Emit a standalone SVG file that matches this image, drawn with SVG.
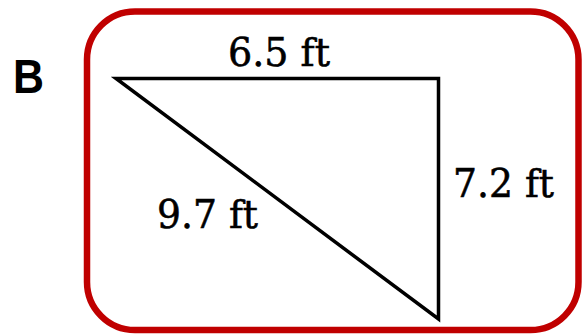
<svg xmlns="http://www.w3.org/2000/svg" width="582" height="334" viewBox="0 0 582 334">
<style>
.frame{fill:none;stroke:#C00000;stroke-width:6.5}
.edge{fill:none;stroke:#000;stroke-width:3.5;stroke-linejoin:miter;stroke-miterlimit:20}
.lbl{font-family:"DejaVu Serif","Liberation Serif",serif;font-size:40px;fill:#000;stroke:#000;stroke-width:0.6}
.tag{font-family:"Liberation Sans",Arial,sans-serif;font-weight:bold;font-size:49px;fill:#000}
</style>
<rect width="582" height="334" fill="#fff"/>
<g id="label-B"><text class="tag" x="13" y="93" textLength="31" lengthAdjust="spacingAndGlyphs">B</text></g>
<g id="frame"><rect class="frame" x="87" y="11.5" width="491.5" height="318.5" rx="48" ry="48"/></g>
<g id="connectors">
<path class="edge" d="M116,78.5 L438.5,78.5 L438.5,319 Z"/>
</g>
<g id="side-top"><text class="lbl" x="228" y="66" textLength="102" lengthAdjust="spacingAndGlyphs">6.5 ft</text></g>
<g id="side-right"><text class="lbl" x="453" y="197" textLength="101" lengthAdjust="spacingAndGlyphs">7.2 ft</text></g>
<g id="side-hyp"><text class="lbl" x="157" y="228" textLength="101" lengthAdjust="spacingAndGlyphs">9.7 ft</text></g>
</svg>
